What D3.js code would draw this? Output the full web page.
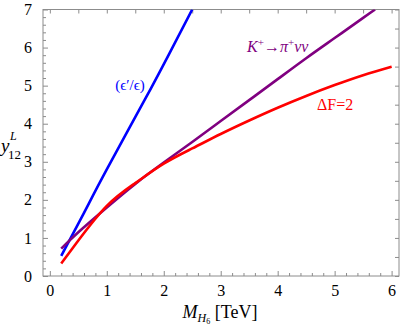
<!DOCTYPE html>
<html lang="en">
  <head>
    <meta charset="UTF-8" />
    <title>y12 vs M_H6</title>
    <script src="https://cdnjs.cloudflare.com/ajax/libs/d3/7.8.5/d3.min.js"></script>
    <style>
      body { margin: 0; background: #fff; }
      .frame line, .frame path { stroke: #8c8c8c; }
    </style>
  </head>
  <body>
    <div id="chart"></div>
    <script>
      // curves: [M (TeV), y12]
      const epsCurve = [[0.2, 0.53], [0.6, 1.66], [1.0, 2.8], [1.667, 4.63], [2.1, 5.85], [2.5, 7.0]];
      const kpiCurve = [[0.2, 0.72], [0.5, 1.15], [1.0, 1.8], [1.5, 2.42], [2.0, 2.98], [2.5, 3.52],
                        [3.0, 4.07], [3.5, 4.62], [4.0, 5.17], [4.5, 5.72], [5.0, 6.25], [5.5, 6.78], [5.71, 7.0]];
      const dfCurve = [[0.2, 0.33], [0.5, 0.93], [1.0, 1.84], [1.5, 2.44], [2.0, 2.95], [2.5, 3.35],
                       [3.0, 3.73], [3.5, 4.085], [4.0, 4.42], [4.5, 4.73], [5.0, 5.015], [5.5, 5.275], [6.0, 5.5]];
      const xTicks = [0, 1, 2, 3, 4, 5, 6];
      const yTicks = [0, 1, 2, 3, 4, 5, 6, 7];

      const FONT = "'Liberation Serif', 'Times New Roman', serif";
      const W = 403, H = 327;
      const pL = 43, pR = 399, pT = 9.5, pB = 276;

      const svg = d3.select("#chart").append("svg")
        .attr("width", W).attr("height", H)
        .style("font-family", FONT);

      const x = d3.scaleLinear().domain([-0.12, 6.13]).range([pL, pR]);
      const y = d3.scaleLinear().domain([0, 7]).range([pB, pT]);

      const minorX = d3.range(0, 6.01, 0.2).filter(v => Math.abs(v - Math.round(v)) > 1e-6);
      const minorY = d3.range(0, 7.01, 0.2).filter(v => Math.abs(v - Math.round(v)) > 1e-6);
      const halfX = d3.range(0, 6.01, 0.5);
      const halfY = d3.range(0, 7.01, 0.5);

      // frame
      svg.append("rect")
        .attr("x", pL).attr("y", pT)
        .attr("width", pR - pL).attr("height", pB - pT)
        .attr("fill", "none").attr("stroke", "#8c8c8c").attr("stroke-width", 1);

      function ticks(g) {
        g.attr("font-family", null);
        g.select(".domain").remove();
        g.selectAll("text").style("font-family", FONT).attr("font-size", 16).attr("fill", "#000");
      }

      // bottom axis: labels + major ticks, then minor ticks
      svg.append("g").attr("class", "frame")
        .attr("transform", `translate(0,${pB})`)
        .call(d3.axisBottom(x).tickValues(xTicks).tickFormat(d3.format("d"))
          .tickSizeInner(-5).tickSizeOuter(0).tickPadding(9))
        .call(ticks);
      svg.append("g").attr("class", "frame")
        .attr("transform", `translate(0,${pB})`)
        .call(d3.axisBottom(x).tickValues(minorX).tickSizeInner(-3).tickSizeOuter(0).tickFormat(""))
        .call(ticks);

      // left axis
      svg.append("g").attr("class", "frame")
        .attr("transform", `translate(${pL},0)`)
        .call(d3.axisLeft(y).tickValues(yTicks).tickFormat(d3.format("d"))
          .tickSizeInner(-5).tickSizeOuter(0).tickPadding(11))
        .call(ticks);
      svg.append("g").attr("class", "frame")
        .attr("transform", `translate(${pL},0)`)
        .call(d3.axisLeft(y).tickValues(minorY).tickSizeInner(-3).tickSizeOuter(0).tickFormat(""))
        .call(ticks);

      // top and right: ticks every 0.5, no labels
      svg.append("g").attr("class", "frame")
        .attr("transform", `translate(0,${pT})`)
        .call(d3.axisTop(x).tickValues(halfX).tickSizeInner(-4).tickSizeOuter(0).tickFormat(""))
        .call(ticks);
      svg.append("g").attr("class", "frame")
        .attr("transform", `translate(${pR},0)`)
        .call(d3.axisRight(y).tickValues(halfY).tickSizeInner(-4).tickSizeOuter(0).tickFormat(""))
        .call(ticks);

      // curves
      svg.append("clipPath").attr("id", "clip").append("rect")
        .attr("x", pL).attr("y", pT).attr("width", pR - pL).attr("height", pB - pT);

      const line = d3.line()
        .x(d => x(d[0])).y(d => y(d[1]))
        .curve(d3.curveNatural);

      const series = [
        { data: epsCurve, color: "#0000ff" },
        { data: kpiCurve, color: "#800080" },
        { data: dfCurve, color: "#ff0000" }
      ];
      svg.append("g").attr("clip-path", "url(#clip)")
        .selectAll("path").data(series).enter().append("path")
        .attr("d", d => line(d.data))
        .attr("fill", "none")
        .attr("stroke", d => d.color)
        .attr("stroke-width", 2.6)
        .attr("stroke-linecap", "butt");

      // curve labels
      svg.append("text").attr("x", 130).attr("y", 90)
        .attr("text-anchor", "middle").attr("font-size", 15).attr("fill", "#0000ff")
        .text("(ϵ′/ϵ)");

      const kl = svg.append("text").attr("x", 247).attr("y", 52)
        .attr("font-size", 16).attr("fill", "#800080").attr("font-style", "italic");
      kl.append("tspan").text("K");
      kl.append("tspan").attr("font-size", 11).attr("dy", -6).attr("font-style", "normal").text("+");
      kl.append("tspan").attr("dy", 6).attr("font-style", "normal").text("→");
      kl.append("tspan").text("π");
      kl.append("tspan").attr("font-size", 11).attr("dy", -6).attr("font-style", "normal").text("+");
      kl.append("tspan").attr("dy", 6).text("νν");

      svg.append("text").attr("x", 317).attr("y", 110)
        .attr("font-size", 16).attr("fill", "#ff0000")
        .text("ΔF=2");

      // y label
      svg.append("text").attr("x", 1).attr("y", 152)
        .attr("font-size", 19).attr("font-style", "italic").text("y");
      svg.append("text").attr("x", 10).attr("y", 140)
        .attr("font-size", 12).attr("font-style", "italic").text("L");
      svg.append("text").attr("x", 8).attr("y", 159)
        .attr("font-size", 13).text("12");

      // x label
      const xl = svg.append("text").attr("x", 220).attr("y", 318)
        .attr("text-anchor", "middle").attr("font-size", 18);
      xl.append("tspan").attr("font-style", "italic").text("M");
      xl.append("tspan").attr("font-style", "italic").attr("font-size", 12).attr("dy", 4).text("H");
      xl.append("tspan").attr("font-size", 8).attr("dy", 2).text("6");
      xl.append("tspan").attr("dy", -6).text(" [TeV]");
    </script>
  </body>
</html>
